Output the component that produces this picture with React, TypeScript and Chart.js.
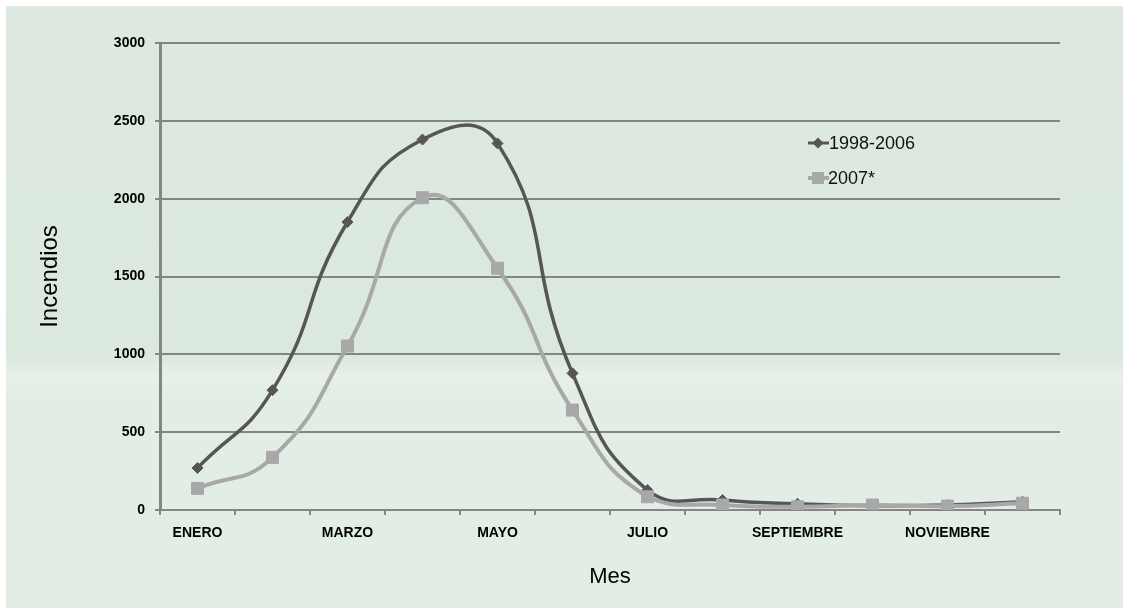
import React, { useEffect, useRef } from "react";
import { Chart, registerables } from "chart.js";

Chart.register(...registerables);

const months = [
  "ENERO", "FEBRERO", "MARZO", "ABRIL", "MAYO", "JUNIO",
  "JULIO", "AGOSTO", "SEPTIEMBRE", "OCTUBRE", "NOVIEMBRE", "DICIEMBRE",
];
const series1Label = "1998-2006";
const series1 = [270, 770, 1850, 2380, 2355, 878, 128, 64, 40, 28, 32, 53];
const series2Label = "2007*";
const series2 = [139, 338, 1053, 2006, 1553, 642, 85, 32, 21, 32, 25, 43];
const yTicks = [0, 500, 1000, 1500, 2000, 2500, 3000];
const yTitle = "Incendios";
const xTitle = "Mes";

const DARK = "#565656";
const LIGHT = "#a8a8a8";
const GRID = "#858585";
const FONT = "'Liberation Sans', Arial, sans-serif";

const bgPlugin = {
  id: "bgPlugin",
  beforeDraw(chart: any) {
    const { ctx, width, height } = chart;
    ctx.save();
    ctx.fillStyle = "#ffffff";
    ctx.fillRect(0, 0, width, height);
    const g = ctx.createLinearGradient(0, 6, 0, height);
    g.addColorStop(0, "#dde9e0");
    g.addColorStop(0.58, "#dbe8de");
    g.addColorStop(0.615, "#e6f0e9");
    g.addColorStop(0.65, "#e1ede5");
    g.addColorStop(1, "#e1ede5");
    ctx.fillStyle = g;
    ctx.fillRect(6, 6, width - 6, height - 6);
    ctx.restore();
  },
};

const legendPlugin = {
  id: "customLegend",
  afterDraw(chart: any) {
    const { ctx } = chart;
    ctx.save();
    ctx.font = `18px ${FONT}`;
    ctx.textBaseline = "middle";
    // item 1
    let y = 143;
    ctx.strokeStyle = DARK;
    ctx.lineWidth = 3;
    ctx.beginPath();
    ctx.moveTo(808, y);
    ctx.lineTo(829, y);
    ctx.stroke();
    ctx.fillStyle = DARK;
    ctx.beginPath();
    ctx.moveTo(818, y - 5.5);
    ctx.lineTo(823.5, y);
    ctx.lineTo(818, y + 5.5);
    ctx.lineTo(812.5, y);
    ctx.closePath();
    ctx.fill();
    ctx.fillStyle = "#111111";
    ctx.fillText(series1Label, 829, y + 1);
    // item 2
    y = 178;
    ctx.strokeStyle = LIGHT;
    ctx.lineWidth = 4;
    ctx.beginPath();
    ctx.moveTo(808, y);
    ctx.lineTo(829, y);
    ctx.stroke();
    ctx.fillStyle = LIGHT;
    ctx.fillRect(812, y - 6, 12, 12);
    ctx.fillStyle = "#111111";
    ctx.fillText(series2Label, 828, y + 1);
    ctx.restore();
  },
};

export default function App() {
  const ref = useRef<HTMLCanvasElement | null>(null);
  useEffect(() => {
    if (!ref.current) return;
    const chart = new Chart(ref.current, {
      type: "line",
      data: {
        labels: months,
        datasets: [
          {
            label: series1Label,
            data: series1,
            borderColor: DARK,
            backgroundColor: DARK,
            borderWidth: 3.5,
            pointStyle: "rectRot",
            pointRadius: 5.5,
            pointBorderWidth: 1,
            pointBackgroundColor: DARK,
            pointBorderColor: DARK,
            tension: 0.5,
            order: 1,
          },
          {
            label: series2Label,
            data: series2,
            borderColor: LIGHT,
            backgroundColor: LIGHT,
            borderWidth: 4,
            pointStyle: "rect",
            pointRadius: 8.5,
            pointBorderWidth: 1,
            pointBackgroundColor: LIGHT,
            pointBorderColor: LIGHT,
            tension: 0.5,
            order: 0,
          },
        ],
      },
      options: {
        animation: false,
        responsive: true,
        maintainAspectRatio: false,
        layout: { padding: { top: 43, left: 30, right: 63, bottom: 0 } },
        plugins: {
          legend: { display: false },
          tooltip: { enabled: false },
        },
        scales: {
          x: {
            type: "category",
            offset: true,
            grid: {
              offset: true,
              drawOnChartArea: false,
              drawTicks: true,
              tickLength: 5,
              color: GRID,
              lineWidth: 2,
            },
            border: { display: true, color: GRID, width: 2 },
            ticks: {
              autoSkip: false,
              maxRotation: 0,
              padding: 10,
              color: "#000000",
              font: { family: FONT, size: 14, weight: "bold" },
              callback: (_v: any, i: number) => (i % 2 === 0 ? months[i] : ""),
            },
            title: {
              display: true,
              text: xTitle,
              color: "#000000",
              font: { family: FONT, size: 22 },
              padding: { top: 0, bottom: 18 },
            },
            afterFit: (s: any) => {
              s.height = 98;
            },
          },
          y: {
            min: 0,
            max: 3000,
            afterBuildTicks: (s: any) => {
              s.ticks = yTicks.map((v) => ({ value: v }));
            },
            grid: {
              drawTicks: true,
              tickLength: 5,
              color: GRID,
              lineWidth: 2,
            },
            border: { display: true, color: GRID, width: 3 },
            ticks: {
              padding: 10,
              color: "#000000",
              font: { family: FONT, size: 14, weight: "bold" },
              callback: (v: any) => String(v),
            },
            title: {
              display: true,
              text: yTitle,
              color: "#000000",
              font: { family: FONT, size: 24 },
              padding: { top: 5.6, bottom: 0 },
            },
            afterFit: (s: any) => {
              s.width = 130;
            },
          },
        },
      },
      plugins: [bgPlugin, legendPlugin],
    });
    return () => chart.destroy();
  }, []);
  return (
    <div style={{ position: "absolute", left: 0, top: 0, width: 1123, height: 608 }}>
      <canvas ref={ref} />
    </div>
  );
}
